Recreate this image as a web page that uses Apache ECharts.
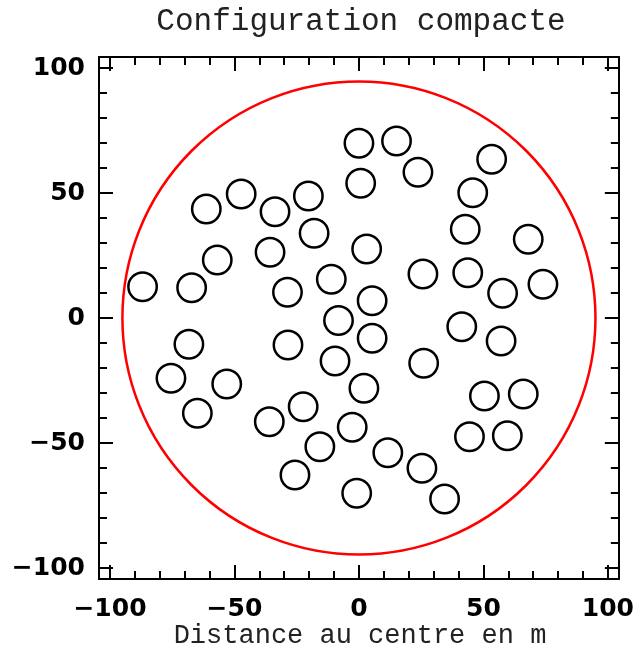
<!DOCTYPE html>
<html>
<head>
<meta charset="utf-8">
<script src="https://cdn.jsdelivr.net/npm/echarts@6/dist/echarts.min.js"></script>
<style>
  html, body { margin: 0; padding: 0; background: #fff; }
  #chart { width: 637px; height: 649px; }
</style>
</head>
<body>
<div id="chart"></div>
<script>
// Texts
const titleText = 'Configuration compacte';
const axisTitle = 'Distance au centre en m';

// Axis extent and tick positions (metres)
const axisMin = -104.4;
const axisMax = 104.4;
const majorTicks = [-100, -50, 0, 50, 100];
const minorTicks = [-90, -80, -70, -60, -40, -30, -20, -10, 10, 20, 30, 40, 60, 70, 80, 90];

// Telescope positions (metres from the array centre)
const circleX = [
  0, 15.1, 23.7, 0.7, 53.3, 45.7, -47.3, -20.3, -61.3, -33.7,
  -18.0, 42.7, 68.0, 3.1, -35.7, -56.9, 25.7, 43.7, -11.1, -86.9,
  -67.2, 73.9, -28.7, 57.7, 5.3, -8.2, 41.3, 5.3, 57.1, -68.3,
  -28.5, -9.6, 26.0, -75.5, -53.1, 2.0, 50.4, 66.0, -22.4, -64.9,
  -36.0, -2.7, 44.4, 59.6, -15.7, 11.6, 25.3, -25.7, -0.9, 34.4
];
const circleY = [
  69.9, 70.8, 58.3, 53.9, 63.5, 50.1, 49.6, 48.8, 43.6, 42.5,
  33.9, 35.5, 31.5, 27.6, 26.3, 23.2, 17.6, 18.1, 15.5, 12.5,
  12.1, 13.5, 10.3, 9.9, 6.9, -1.0, -3.5, -8.1, -9.2, -10.5,
  -10.8, -17.2, -18.1, -24.1, -26.4, -28.1, -31.2, -30.4, -35.5, -38.1,
  -41.5, -43.7, -47.5, -47.1, -51.5, -53.9, -60.1, -62.8, -70.1, -72.4
];
const circleRadius = 5.7;   // telescope footprint radius
const fieldRadius = 95;     // boundary of the site

const fmt = v => (v < 0 ? '\u2212' + Math.abs(v) : String(v));

function axis(position, ticks, tickLen, showLabels, showLine) {
  return {
    type: 'value',
    position: position,
    min: axisMin,
    max: axisMax,
    axisLine: { show: showLine, onZero: false, lineStyle: { color: '#000', width: 2 } },
    axisTick: {
      show: true, inside: true, length: tickLen, customValues: ticks,
      lineStyle: { color: '#000', width: 2 }
    },
    axisLabel: showLabels ? {
      show: true, customValues: majorTicks, formatter: fmt,
      color: '#000', fontFamily: 'DejaVu Sans', fontWeight: 'bold', fontSize: 25,
      margin: position === 'left' ? 14 : 18
    } : { show: false },
    splitLine: { show: false }
  };
}

function circleRender(color, width) {
  return function (params, api) {
    const c = api.coord([api.value(0), api.value(1)]);
    const r = api.size([api.value(2), 0])[0];
    return {
      type: 'circle',
      shape: { cx: c[0], cy: c[1], r: r },
      style: { fill: 'none', stroke: color, lineWidth: width }
    };
  };
}

const chart = echarts.init(document.getElementById('chart'), null, { renderer: 'canvas' });
chart.setOption({
  animation: false,
  backgroundColor: '#fff',
  grid: { left: 99, top: 57, width: 522, height: 522 },
  xAxis: [
    axis('bottom', majorTicks, 14, true, true),
    axis('bottom', minorTicks, 8, false, false),
    axis('top', majorTicks, 14, false, true),
    axis('top', minorTicks, 8, false, false)
  ],
  yAxis: [
    axis('left', majorTicks, 14, true, true),
    axis('left', minorTicks, 8, false, false),
    axis('right', majorTicks, 14, false, true),
    axis('right', minorTicks, 8, false, false)
  ],
  graphic: [
    {
      type: 'text', x: 361, y: 22,
      style: { text: titleText, font: '31px "Liberation Mono"', fill: '#222', align: 'center', verticalAlign: 'middle' }
    },
    {
      type: 'text', x: 360, y: 636,
      style: { text: axisTitle, font: '27px "Liberation Mono"', fill: '#222', align: 'center', verticalAlign: 'middle' }
    }
  ],
  series: [
    {
      type: 'custom',
      name: 'site',
      xAxisIndex: 0, yAxisIndex: 0,
      renderItem: circleRender('#ff0000', 2.5),
      data: [[0, 0, fieldRadius]]
    },
    {
      type: 'custom',
      name: 'telescopes',
      xAxisIndex: 0, yAxisIndex: 0,
      renderItem: circleRender('#000', 2.5),
      data: circleX.map((x, i) => [x, circleY[i], circleRadius])
    }
  ]
});
</script>
</body>
</html>
